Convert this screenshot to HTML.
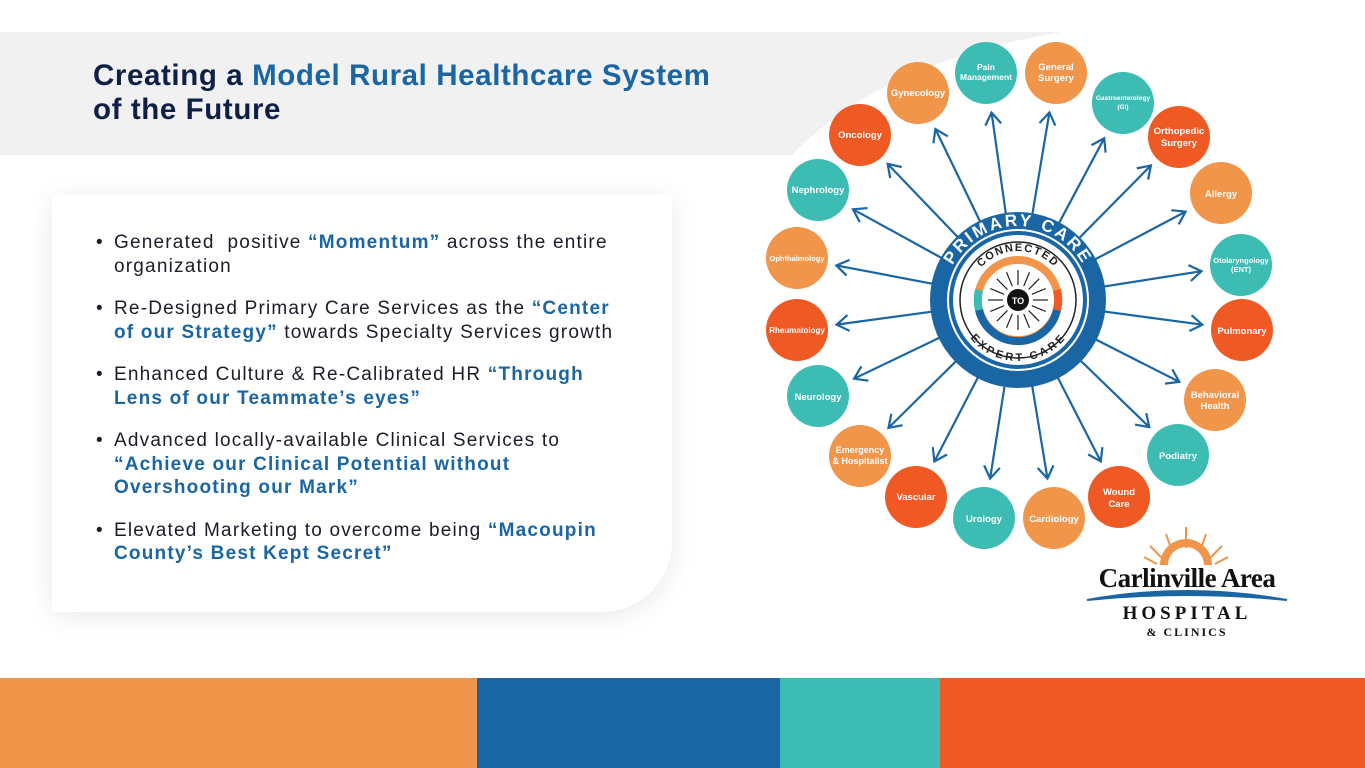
<!DOCTYPE html>
<html><head><meta charset="utf-8"><style>
*{margin:0;padding:0;box-sizing:border-box}
body{width:1365px;height:768px;position:relative;overflow:hidden;background:#fff;font-family:"Liberation Sans",sans-serif}
h1{position:absolute;left:93px;top:59px;font-size:29.5px;line-height:34px;font-weight:700;color:#0f1f45;letter-spacing:0.6px;white-space:nowrap}
h1 span{color:#1a65a3}
.card{position:absolute;left:52px;top:195px;width:620px;height:417px;background:#fff;border-radius:0 0 70px 0;box-shadow:0 4px 28px rgba(0,0,0,0.09)}
ul{position:absolute;left:96px;top:231px;width:580px;list-style:none;font-size:19px;line-height:23.5px;color:#1c1c2a;white-space:nowrap;letter-spacing:1.2px}
li{position:relative;padding-left:18px;margin-bottom:19px}
li:before{content:"•";position:absolute;left:0;top:0}
li b{color:#1a65a3}
.bar{position:absolute;top:678px;height:90px}
</style></head><body>
<svg width="1365" height="768" style="position:absolute;left:0;top:0">
<path d="M0 32 L1062 32 Q880 62 792 155 L0 155 Z" fill="#f1f1f1"/>
</svg>
<h1>Creating a <span>Model Rural Healthcare System</span><br>of the Future</h1>
<div class="card"></div>
<ul>
<li>Generated &nbsp;positive <b>“Momentum”</b> across the entire<br>organization</li>
<li>Re-Designed Primary Care Services as the <b>“Center<br>of our Strategy”</b> towards Specialty Services growth</li>
<li>Enhanced Culture &amp; Re-Calibrated HR <b>“Through<br>Lens of our Teammate’s eyes”</b></li>
<li>Advanced locally-available Clinical Services to<br><b>“Achieve our Clinical Potential without<br>Overshooting our Mark”</b></li>
<li>Elevated Marketing to overcome being <b>“Macoupin<br>County’s Best Kept Secret”</b></li>
</ul>
<svg width="1365" height="768" style="position:absolute;left:0;top:0" font-family="Liberation Sans, sans-serif" font-weight="700">
<g id="arrows" stroke="#1a65a3" stroke-width="2.2" fill="none"></g>
<g text-anchor="middle" fill="#fff" font-size="8.5">
<circle cx="986" cy="73" r="31" fill="#3dbcb4"/><text x="986" y="70">Pain</text><text x="986" y="80">Management</text>
<circle cx="1056" cy="73" r="31" fill="#f0954a"/><text x="1056" y="70" font-size="9.5">General</text><text x="1056" y="81" font-size="9.5">Surgery</text>
<circle cx="1123" cy="103" r="31" fill="#3dbcb4"/><text x="1123" y="100" font-size="6.5">Gastroenterology</text><text x="1123" y="109" font-size="6.5">(GI)</text>
<circle cx="1179" cy="137" r="31" fill="#ef5a24"/><text x="1179" y="134" font-size="9.5">Orthopedic</text><text x="1179" y="146" font-size="9.5">Surgery</text>
<circle cx="1221" cy="193" r="31" fill="#f0954a"/><text x="1221" y="197" font-size="9.5">Allergy</text>
<circle cx="1241" cy="265" r="31" fill="#3dbcb4"/><text x="1241" y="263" font-size="7.5">Otolaryngology</text><text x="1241" y="272" font-size="7.5">(ENT)</text>
<circle cx="1242" cy="330" r="31" fill="#ef5a24"/><text x="1242" y="334" font-size="9.5">Pulmonary</text>
<circle cx="1215" cy="400" r="31" fill="#f0954a"/><text x="1215" y="398" font-size="9.5">Behavioral</text><text x="1215" y="409" font-size="9.5">Health</text>
<circle cx="1178" cy="455" r="31" fill="#3dbcb4"/><text x="1178" y="459" font-size="9.5">Podiatry</text>
<circle cx="1119" cy="497" r="31" fill="#ef5a24"/><text x="1119" y="495" font-size="9.5">Wound</text><text x="1119" y="507" font-size="9.5">Care</text>
<circle cx="1054" cy="518" r="31" fill="#f0954a"/><text x="1054" y="522" font-size="9.5">Cardiology</text>
<circle cx="984" cy="518" r="31" fill="#3dbcb4"/><text x="984" y="522" font-size="9.5">Urology</text>
<circle cx="916" cy="497" r="31" fill="#ef5a24"/><text x="916" y="500" font-size="9.5">Vascular</text>
<circle cx="860" cy="456" r="31" fill="#f0954a"/><text x="860" y="453" font-size="9">Emergency</text><text x="860" y="464" font-size="9">&amp; Hospitalist</text>
<circle cx="818" cy="396" r="31" fill="#3dbcb4"/><text x="818" y="400" font-size="9.5">Neurology</text>
<circle cx="797" cy="330" r="31" fill="#ef5a24"/><text x="797" y="333" font-size="8">Rheumatology</text>
<circle cx="797" cy="258" r="31" fill="#f0954a"/><text x="797" y="261" font-size="7.5">Ophthalmology</text>
<circle cx="818" cy="190" r="31" fill="#3dbcb4"/><text x="818" y="193" font-size="9.5">Nephrology</text>
<circle cx="860" cy="135" r="31" fill="#ef5a24"/><text x="860" y="138" font-size="9.5">Oncology</text>
<circle cx="918" cy="93" r="31" fill="#f0954a"/><text x="918" y="96" font-size="9.5">Gynecology</text>
</g>
<circle cx="1018" cy="300" r="88" fill="#1a65a3"/>
<circle cx="1018" cy="300" r="65" fill="#fff"/>
<circle cx="1018" cy="300" r="70" fill="none" stroke="#fff" stroke-width="2"/>
<circle cx="1018" cy="300" r="58" fill="none" stroke="#222" stroke-width="1.5"/>
<circle cx="1018" cy="300" r="40" fill="none" stroke="#f0954a" stroke-width="8"/>
<path d="M 979 290 A 40 40 0 0 0 979 310" stroke="#3dbcb4" stroke-width="8" fill="none"/>
<path d="M 979 310 A 40 40 0 0 0 1057 310" stroke="#1a65a3" stroke-width="8" fill="none"/>
<path d="M 1057 310 A 40 40 0 0 0 1057 290" stroke="#ef5a24" stroke-width="8" fill="none"/>
<circle cx="1018" cy="300" r="35" fill="#fff"/>
<g id="rays" stroke="#222" stroke-width="1.2"></g>
<circle cx="1018" cy="300" r="11" fill="#111"/>
<text x="1018" y="304" text-anchor="middle" font-size="9" fill="#fff">TO</text>
<defs>
<path id="tp" d="M 944 300 A 74 74 0 0 1 1092 300"/>
<path id="tc" d="M 969 300 A 49 49 0 0 1 1067 300"/>
<path id="bc" d="M 966 300 A 52 52 0 0 0 1070 300"/>
</defs>
<text font-size="17" fill="#fff" letter-spacing="2.5"><textPath href="#tp" startOffset="50%" text-anchor="middle">PRIMARY CARE</textPath></text>
<text font-size="11" fill="#222" letter-spacing="1.5"><textPath href="#tc" startOffset="50%" text-anchor="middle">CONNECTED</textPath></text>
<text font-size="11" fill="#222" letter-spacing="1.5" dy="9"><textPath href="#bc" startOffset="50%" text-anchor="middle">EXPERT CARE</textPath></text>
<g fill="#f0954a">
<path d="M1160 565 A26 26 0 0 1 1212 565 L1204 565 A18 18 0 0 0 1168 565 Z"/>
</g>
<g stroke="#f0954a" stroke-width="2">
<line x1="1186" y1="548" x2="1186" y2="527"/><line x1="1172" y1="551" x2="1166" y2="534"/><line x1="1200" y1="551" x2="1206" y2="534"/>
<line x1="1162" y1="558" x2="1150" y2="546"/><line x1="1210" y1="558" x2="1222" y2="546"/>
<line x1="1157" y1="564" x2="1144" y2="557"/><line x1="1215" y1="564" x2="1228" y2="557"/>
</g>
<text x="1187" y="587" text-anchor="middle" font-family="Liberation Serif, serif" font-size="27" fill="#111" font-weight="700" letter-spacing="-0.5">Carlinville Area</text>
<path d="M1087 600 Q1187 582 1287 600 Q1187 590 1087 600Z" fill="#1a65a3" stroke="#1a65a3" stroke-width="2"/>
<text x="1187" y="619" text-anchor="middle" font-family="Liberation Serif, serif" font-size="19" fill="#111" letter-spacing="4">HOSPITAL</text>
<text x="1187" y="636" text-anchor="middle" font-family="Liberation Serif, serif" font-size="12" fill="#111" letter-spacing="2">&amp; CLINICS</text>
</svg>
<div class="bar" style="left:0;width:477px;background:#f0954a"></div>
<div class="bar" style="left:477px;width:303px;background:#1a65a3"></div>
<div class="bar" style="left:780px;width:160px;background:#3dbcb4"></div>
<div class="bar" style="left:940px;width:425px;background:#ef5a24"></div>
<script>
var n=[[986,73],[1056,73],[1123,103],[1179,137],[1221,193],[1241,265],[1242,330],[1215,400],[1178,455],[1119,497],[1054,518],[984,518],[916,497],[860,456],[818,396],[797,330],[797,258],[818,190],[860,135],[918,93]];
var g=document.getElementById('arrows'),s='',cx=1018,cy=300;
n.forEach(function(p){var dx=p[0]-cx,dy=p[1]-cy,d=Math.sqrt(dx*dx+dy*dy),ux=dx/d,uy=dy/d;
var x1=cx+ux*60,y1=cy+uy*60,x2=cx+ux*(d-40),y2=cy+uy*(d-40);
var px=-uy,py=ux,ax=x2-ux*12,ay=y2-uy*12;
s+='<line x1="'+x1+'" y1="'+y1+'" x2="'+x2+'" y2="'+y2+'"/>';
s+='<polyline points="'+(ax+px*8)+','+(ay+py*8)+' '+x2+','+y2+' '+(ax-px*8)+','+(ay-py*8)+'"/>';});
g.innerHTML=s;
var r='';for(var i=0;i<16;i++){var a=i*Math.PI/8;r+='<line x1="'+(cx+Math.cos(a)*15)+'" y1="'+(cy+Math.sin(a)*15)+'" x2="'+(cx+Math.cos(a)*30)+'" y2="'+(cy+Math.sin(a)*30)+'"/>';}
document.getElementById('rays').innerHTML=r;
</script>
</body></html>
